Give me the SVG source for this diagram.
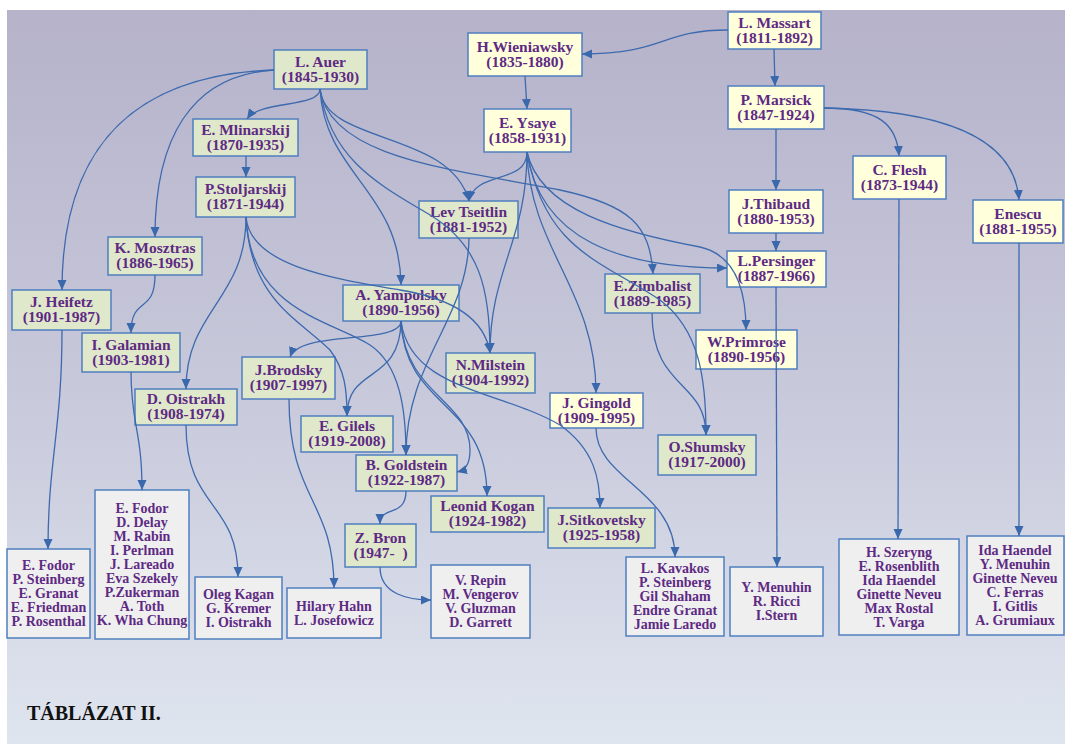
<svg xmlns="http://www.w3.org/2000/svg" width="1065" height="744" viewBox="0 0 1065 744">
<defs>
<linearGradient id="bg" x1="0" y1="0" x2="0" y2="1">
<stop offset="0" stop-color="#b5b2ca"/>
<stop offset="0.55" stop-color="#c9cadc"/>
<stop offset="1" stop-color="#dfe5ef"/>
</linearGradient>
<marker id="ah" markerUnits="userSpaceOnUse" markerWidth="11" markerHeight="10" refX="10" refY="4.5" orient="auto">
<path d="M0,0 L10,4.5 L0,9 z" fill="#3a68ad"/>
</marker>
<style>
.n rect{stroke:#4f7fbf;stroke-width:1.5}
.y rect{fill:#ffffdc}
.g rect{fill:#dfe8cb}
.l rect{fill:#efefef}
text{font-family:"Liberation Serif","Times New Roman",serif;font-weight:bold;fill:#5e2a84;text-anchor:middle}
.n text{font-size:15.5px}
.l text{font-size:14px}
#connectors path{fill:none;stroke:#3d6aae;stroke-width:1.3;marker-end:url(#ah)}
.title{font-size:20px;fill:#111;text-anchor:start}
</style>
</defs>
<rect x="0" y="0" width="1065" height="744" fill="#fff"/>
<rect x="7" y="10" width="1058" height="734" fill="url(#bg)"/>

<g id="massart" class="n y"><rect x="728" y="12" width="93" height="37"/><text x="774.5" y="27.5">L. Massart</text><text x="774.5" y="42.5">(1811-1892)</text></g>
<g id="wieniawsky" class="n y"><rect x="468" y="33" width="114" height="43"/><text x="525" y="51.5">H.Wieniawsky</text><text x="525" y="66.5">(1835-1880)</text></g>
<g id="ysaye" class="n y"><rect x="484" y="109" width="87" height="43"/><text x="527.5" y="127.5">E. Ysaye</text><text x="527.5" y="142.5">(1858-1931)</text></g>
<g id="marsick" class="n y"><rect x="728" y="86" width="96" height="43"/><text x="776" y="104.5">P. Marsick</text><text x="776" y="119.5">(1847-1924)</text></g>
<g id="flesh" class="n y"><rect x="853" y="156" width="93" height="43"/><text x="899.5" y="174.5">C. Flesh</text><text x="899.5" y="189.5">(1873-1944)</text></g>
<g id="thibaud" class="n y"><rect x="729" y="190" width="94" height="43"/><text x="776" y="208.5">J.Thibaud</text><text x="776" y="223.5">(1880-1953)</text></g>
<g id="enescu" class="n y"><rect x="973" y="200" width="90" height="43"/><text x="1018" y="218.5">Enescu</text><text x="1018" y="233.5">(1881-1955)</text></g>
<g id="persinger" class="n y"><rect x="727" y="251" width="99" height="36"/><text x="776.5" y="266">L.Persinger</text><text x="776.5" y="281">(1887-1966)</text></g>
<g id="primrose" class="n y"><rect x="696" y="330" width="101" height="39"/><text x="746.5" y="346.5">W.Primrose</text><text x="746.5" y="361.5">(1890-1956)</text></g>
<g id="gingold" class="n y"><rect x="550" y="393" width="93" height="35"/><text x="596.5" y="407.5">J. Gingold</text><text x="596.5" y="422.5">(1909-1995)</text></g>

<g id="auer" class="n g"><rect x="274" y="50" width="93" height="39"/><text x="320.5" y="66.5">L. Auer</text><text x="320.5" y="81.5">(1845-1930)</text></g>
<g id="mlinarskij" class="n g"><rect x="193" y="119" width="105" height="37"/><text x="245.5" y="134.5">E. Mlinarskij</text><text x="245.5" y="149.5">(1870-1935)</text></g>
<g id="stoljarskij" class="n g"><rect x="196" y="177" width="99" height="40"/><text x="245.5" y="194">P.Stoljarskij</text><text x="245.5" y="209">(1871-1944)</text></g>
<g id="mosztras" class="n g"><rect x="108" y="237" width="94" height="38"/><text x="155" y="253">K. Mosztras</text><text x="155" y="268">(1886-1965)</text></g>
<g id="heifetz" class="n g"><rect x="12" y="290" width="99" height="40"/><text x="61.5" y="307">J. Heifetz</text><text x="61.5" y="322">(1901-1987)</text></g>
<g id="galamian" class="n g"><rect x="82" y="333" width="98" height="39"/><text x="131" y="349.5">I. Galamian</text><text x="131" y="364.5">(1903-1981)</text></g>
<g id="oistrakh" class="n g"><rect x="135" y="389" width="102" height="36"/><text x="186" y="404">D. Oistrakh</text><text x="186" y="419">(1908-1974)</text></g>
<g id="brodsky" class="n g"><rect x="242" y="357" width="93" height="42"/><text x="288.5" y="375">J.Brodsky</text><text x="288.5" y="390">(1907-1997)</text></g>
<g id="gilels" class="n g"><rect x="301" y="416" width="92" height="36"/><text x="347" y="431">E. Gilels</text><text x="347" y="446">(1919-2008)</text></g>
<g id="yampolsky" class="n g"><rect x="343" y="285" width="116" height="36"/><text x="401" y="300">A. Yampolsky</text><text x="401" y="315">(1890-1956)</text></g>
<g id="tseitlin" class="n g"><rect x="419" y="201" width="99" height="37"/><text x="468.5" y="216.5">Lev Tseitlin</text><text x="468.5" y="231.5">(1881-1952)</text></g>
<g id="milstein" class="n g"><rect x="446" y="353" width="89" height="40"/><text x="490.5" y="370">N.Milstein</text><text x="490.5" y="385">(1904-1992)</text></g>
<g id="zimbalist" class="n g"><rect x="605" y="274" width="95" height="39"/><text x="652.5" y="290.5">E.Zimbalist</text><text x="652.5" y="305.5">(1889-1985)</text></g>
<g id="shumsky" class="n g"><rect x="658" y="435" width="98" height="40"/><text x="707" y="452">O.Shumsky</text><text x="707" y="467">(1917-2000)</text></g>
<g id="goldstein" class="n g"><rect x="356" y="455" width="101" height="36"/><text x="406.5" y="470">B. Goldstein</text><text x="406.5" y="485">(1922-1987)</text></g>
<g id="kogan" class="n g"><rect x="431" y="496" width="113" height="36"/><text x="487.5" y="511">Leonid Kogan</text><text x="487.5" y="526">(1924-1982)</text></g>
<g id="sitkovetsky" class="n g"><rect x="548" y="508" width="107" height="40"/><text x="601.5" y="525">J.Sitkovetsky</text><text x="601.5" y="540">(1925-1958)</text></g>
<g id="bron" class="n g"><rect x="345" y="524" width="71" height="43"/><text x="380.5" y="542.5">Z. Bron</text><text x="380.5" y="557.5">(1947-&#160;&#160;)</text></g>

<g id="students-heifetz" class="n l"><rect x="7" y="549" width="83" height="89"/><text x="48.5" y="570">E. Fodor</text><text x="48.5" y="584">P. Steinberg</text><text x="48.5" y="598">E. Granat</text><text x="48.5" y="612">E. Friedman</text><text x="48.5" y="626">P. Rosenthal</text></g>
<g id="students-galamian" class="n l"><rect x="95" y="490" width="94" height="149"/><text x="142" y="513">E. Fodor</text><text x="142" y="527">D. Delay</text><text x="142" y="541">M. Rabin</text><text x="142" y="555">I. Perlman</text><text x="142" y="569">J. Lareado</text><text x="142" y="583">Eva Szekely</text><text x="142" y="597">P.Zukerman</text><text x="142" y="611">A. Toth</text><text x="142" y="625">K. Wha Chung</text></g>
<g id="students-oistrakh" class="n l"><rect x="195" y="577" width="87" height="62"/><text x="238.5" y="598.5">Oleg Kagan</text><text x="238.5" y="612.5">G. Kremer</text><text x="238.5" y="626.5">I. Oistrakh</text></g>
<g id="students-brodsky" class="n l"><rect x="287" y="588" width="94" height="50"/><text x="334" y="610.5">Hilary Hahn</text><text x="334" y="624.5">L. Josefowicz</text></g>
<g id="students-bron" class="n l"><rect x="431" y="565" width="99" height="73"/><text x="480.5" y="585">V. Repin</text><text x="480.5" y="599">M. Vengerov</text><text x="480.5" y="613">V. Gluzman</text><text x="480.5" y="627">D. Garrett</text></g>
<g id="students-gingold" class="n l"><rect x="626" y="557" width="98" height="79"/><text x="675" y="573">L. Kavakos</text><text x="675" y="587">P. Steinberg</text><text x="675" y="601">Gil Shaham</text><text x="675" y="615">Endre Granat</text><text x="675" y="629">Jamie Laredo</text></g>
<g id="students-persinger" class="n l"><rect x="730" y="567" width="93" height="69"/><text x="776.5" y="592">Y. Menuhin</text><text x="776.5" y="606">R. Ricci</text><text x="776.5" y="620">I.Stern</text></g>
<g id="students-flesh" class="n l"><rect x="839" y="539" width="120" height="96"/><text x="899" y="556.5">H. Szeryng</text><text x="899" y="570.5">E. Rosenblith</text><text x="899" y="584.5">Ida Haendel</text><text x="899" y="598.5">Ginette Neveu</text><text x="899" y="612.5">Max Rostal</text><text x="899" y="626.5">T. Varga</text></g>
<g id="students-enescu" class="n l"><rect x="967" y="536" width="97" height="99"/><text x="1015" y="555">Ida Haendel</text><text x="1015" y="569">Y. Menuhin</text><text x="1015" y="583">Ginette Neveu</text><text x="1015" y="597">C. Ferras</text><text x="1015" y="611">I. Gitlis</text><text x="1015" y="625">A. Grumiaux</text></g>

<g id="connectors">
<path d="M728,30 C660,30 665,54 582,54"/>
<path d="M774,49 L775,86"/>
<path d="M525,76 L527,109"/>
<path d="M776,129 L776,190"/>
<path d="M824,108 C880,108 897,125 899,156"/>
<path d="M824,108 C950,110 1015,140 1019,200"/>
<path d="M776,233 L776,251"/>
<path d="M776,287 L777,567"/>
<path d="M899,199 L898,539"/>
<path d="M1019,243 L1019,536"/>
<path d="M274,70 C130,75 62,150 62,290"/>
<path d="M274,70 C190,75 155,140 155,237"/>
<path d="M320,89 C320,108 260,100 247,119"/>
<path d="M246,156 L246,177"/>
<path d="M320,89 C325,145 450,130 469,201"/>
<path d="M320,89 C330,160 460,170 560,190 C630,205 650,225 653,274"/>
<path d="M320,89 C330,160 380,185 430,215 C480,245 490,290 490,353"/>
<path d="M320,89 C325,175 400,190 401,285"/>
<path d="M527,152 C527,185 475,170 469,201"/>
<path d="M527,152 C527,240 490,270 490,353"/>
<path d="M527,152 C530,250 596,290 596,393"/>
<path d="M527,152 C545,250 600,260 660,300 C700,330 706,380 706,435"/>
<path d="M527,152 C540,240 620,268 727,268"/>
<path d="M527,152 C540,210 620,232 700,247 C735,255 746,290 746,330"/>
<path d="M246,217 C246,300 186,310 186,389"/>
<path d="M246,217 C250,265 330,278 400,290 C455,299 485,320 490,353"/>
<path d="M246,217 C250,300 300,320 330,350 C345,370 347,390 347,416"/>
<path d="M246,217 C250,310 330,320 370,345 C400,365 406,410 406,455"/>
<path d="M469,238 C468,320 406,360 406,455"/>
<path d="M401,321 C401,345 300,330 290,357"/>
<path d="M401,321 C400,385 347,365 347,416"/>
<path d="M401,321 C405,395 470,400 470,450 C470,465 465,470 457,472"/>
<path d="M401,321 C405,410 487,400 487,496"/>
<path d="M401,321 C410,390 500,390 560,425 C595,450 600,480 600,508"/>
<path d="M652,313 C652,390 706,380 706,435"/>
<path d="M596,428 C596,480 675,490 675,557"/>
<path d="M155,275 C155,315 131,295 131,333"/>
<path d="M62,330 C62,430 48,460 48,549"/>
<path d="M131,372 C131,425 142,430 142,490"/>
<path d="M186,425 C186,510 238,500 238,577"/>
<path d="M289,399 C289,500 334,500 334,588"/>
<path d="M406,491 C406,518 380,505 380,524"/>
<path d="M380,567 C380,595 410,600 431,600"/>
</g>

<text class="title" x="27" y="720">TÁBLÁZAT II.</text>
</svg>
